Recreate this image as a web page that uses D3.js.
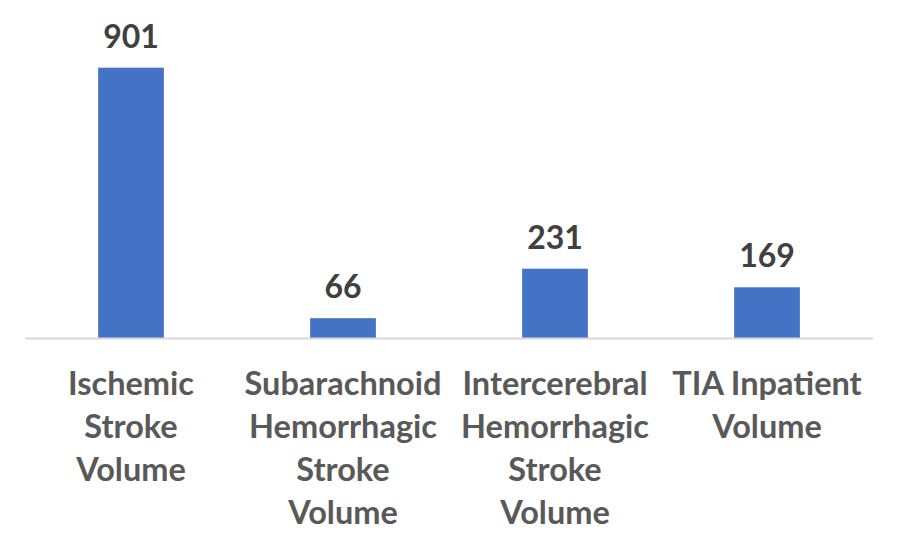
<!DOCTYPE html>
<html>
<head>
<meta charset="utf-8">
<script src="https://cdn.jsdelivr.net/npm/d3@7"></script>
<style>
  html, body { margin: 0; padding: 0; background: #ffffff; }
  svg { display: block; }
</style>
</head>
<body>
<svg id="chart" width="900" height="560"></svg>
<script>
const categories = [
  "Ischemic Stroke Volume",
  "Subarachnoid Hemorrhagic Stroke Volume",
  "Intercerebral Hemorrhagic Stroke Volume",
  "TIA Inpatient Volume"
];
const categoryLines = [
  ["Ischemic", "Stroke", "Volume"],
  ["Subarachnoid", "Hemorrhagic", "Stroke", "Volume"],
  ["Intercerebral", "Hemorrhagic", "Stroke", "Volume"],
  ["TIA Inpatient", "Volume"]
];
const values = [901, 66, 231, 169];

const svg = d3.select("#chart");
const margin = { left: 25, right: 27, top: 38, bottom: 222 };
const width = 900, height = 560;

const x = d3.scaleBand()
  .domain(categories)
  .range([margin.left, width - margin.right])
  .paddingInner(0.69)
  .paddingOuter(0.345);

const y = d3.scaleLinear()
  .domain([0, 1000])
  .range([height - margin.bottom, margin.top]);

const data = categories.map((c, i) => ({ cat: c, value: values[i], lines: categoryLines[i] }));

// bars
svg.append("g").selectAll("rect")
  .data(data)
  .join("rect")
  .attr("x", d => x(d.cat))
  .attr("y", d => y(d.value))
  .attr("width", x.bandwidth())
  .attr("height", d => y(0) - y(d.value))
  .attr("fill", "#4472C4");

// axis line
svg.append("line")
  .attr("x1", margin.left)
  .attr("x2", width - margin.right)
  .attr("y1", y(0) + 0.5)
  .attr("y2", y(0) + 0.5)
  .attr("stroke", "#d9d9d9")
  .attr("stroke-width", 2);

// value labels
svg.append("g").selectAll("text")
  .data(data)
  .join("text")
  .attr("x", d => x(d.cat) + x.bandwidth() / 2)
  .attr("y", d => y(d.value) - 20)
  .attr("text-anchor", "middle")
  .attr("font-family", "Lato, 'Open Sans', sans-serif")
  .attr("font-weight", "bold")
  .attr("font-size", 32)
  .attr("fill", "#404040")
  .text(d => d.value);

// category labels
const lab = svg.append("g").selectAll("text")
  .data(data)
  .join("text")
  .attr("x", d => x(d.cat) + x.bandwidth() / 2)
  .attr("y", y(0) + 57)
  .attr("text-anchor", "middle")
  .attr("font-family", "Lato, 'Open Sans', sans-serif")
  .attr("font-weight", "bold")
  .attr("font-size", 32.5)
  .attr("fill", "#595959");

lab.selectAll("tspan")
  .data(d => d.lines.map(l => ({ l, cx: x(d.cat) + x.bandwidth() / 2 })))
  .join("tspan")
  .attr("x", t => t.cx)
  .attr("dy", (t, i) => i === 0 ? 0 : 43)
  .text(t => t.l);
</script>
</body>
</html>
